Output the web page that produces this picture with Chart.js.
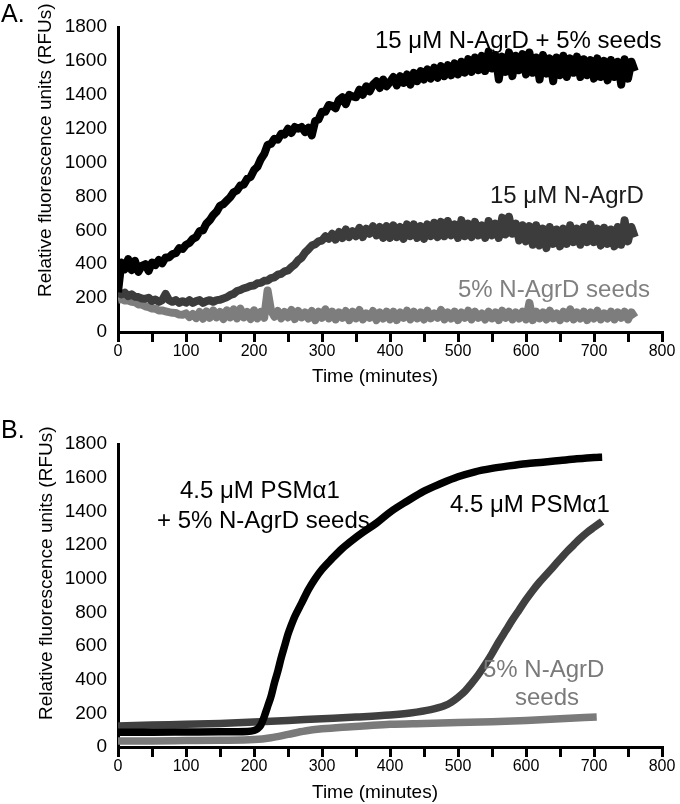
<!DOCTYPE html>
<html><head><meta charset="utf-8">
<script src="https://cdn.jsdelivr.net/npm/chart.js@4.4.1/dist/chart.umd.min.js"></script>
<style>
html,body{margin:0;padding:0;background:#fff;}
#wrap{position:relative;width:680px;height:804px;background:#fff;}
canvas{position:absolute;left:0;}
</style></head><body>
<div id="wrap">
<canvas id="cA" width="680" height="400" style="top:0"></canvas>
<canvas id="cB" width="680" height="404" style="top:400px"></canvas>
</div>
<script>
// ---------- Panel A data (time in minutes, RFU) ----------
const timeA = [0,5,10,15,20,25,30,35,40,45,50,55,60,65,70,75,80,85,90,95,
100,105,110,115,120,125,130,135,140,145,150,155,160,165,170,175,180,185,190,195,
200,205,210,215,220,225,230,235,240,245,250,255,260,265,270,275,280,285,290,295,
300,305,310,315,320,325,330,335,340,345,350,355,360,365,370,375,380,385,390,395,
400,405,410,415,420,425,430,435,440,445,450,455,460,465,470,475,480,485,490,495,
500,505,510,515,520,525,530,535,540,545,550,555,560,565,570,575,580,585,590,595,
600,605,610,615,620,625,630,635,640,645,650,655,660,665,670,675,680,685,690,695,
700,705,710,715,720,725,730,735,740,745,750,755,760];
const seededA = [235,410,370,430,365,420,355,390,400,360,
410,395,425,405,440,440,460,465,495,490,
515,525,550,560,595,600,640,660,690,710,
745,755,775,795,825,835,865,870,905,915,
955,975,1020,1050,1105,1110,1140,1135,1170,1165,
1200,1175,1210,1200,1210,1180,1205,1160,1245,1255,
1300,1300,1340,1335,1320,1370,1385,1345,1400,1390,
1385,1430,1400,1450,1420,1460,1480,1440,1490,1450,
1475,1505,1455,1510,1470,1520,1460,1530,1480,1540,
1490,1550,1495,1560,1500,1570,1510,1575,1515,1585,
1520,1595,1530,1610,1535,1620,1545,1630,1540,1655,
1555,1635,1490,1625,1535,1650,1510,1630,1545,1640,
1520,1650,1530,1620,1490,1635,1525,1615,1480,1620,
1515,1630,1505,1615,1530,1625,1505,1610,1515,1605,
1495,1615,1505,1600,1485,1605,1505,1595,1460,1610,
1495,1595,1540];
const agrdA = [235,222,232,212,222,208,206,198,196,202,
183,192,178,188,225,188,178,188,172,182,
173,188,172,182,188,172,182,188,178,188,
190,198,205,218,225,242,248,258,263,272,
274,288,290,302,304,318,323,338,343,358,
363,383,398,423,438,468,488,510,518,535,
540,565,550,580,545,590,555,605,560,595,
565,615,560,610,580,625,570,620,555,625,
555,630,560,620,550,635,565,635,555,625,
550,635,565,645,560,650,565,655,570,635,
555,660,565,640,560,650,570,630,555,655,
570,640,555,675,575,680,580,640,540,630,
535,625,515,630,510,610,495,620,520,605,
505,610,520,630,530,610,515,620,530,635,
530,610,510,615,520,605,505,620,515,660,
535,620,560];
const seedsA = [190,194,186,186,178,176,163,162,152,147,
138,137,127,127,122,117,113,112,103,102,
110,88,106,82,118,78,122,84,128,86,
118,76,128,86,134,80,138,86,118,76,
128,80,118,84,245,128,90,124,80,118,
86,130,76,124,86,116,80,124,70,120,
84,134,80,120,74,116,84,124,70,120,
80,130,74,110,84,124,70,116,80,120,
74,120,70,116,84,126,74,120,80,116,
74,126,80,110,84,130,74,116,80,120,
70,116,84,126,74,120,84,110,74,120,
80,116,70,126,84,120,74,116,80,120,
74,172,70,120,80,116,74,126,80,110,
70,120,80,134,74,116,80,120,70,116,
80,126,74,110,80,120,74,116,84,120,
74,116,86];

// ---------- Panel B data ----------
const timeB_seeded = [0,50,100,150,190,200,205,210,215,220,225,230,235,240,245,250,255,260,270,280,290,300,315,330,345,360,380,400,425,450,475,500,525,550,575,600,625,650,675,700,712];
const psmSeededB   = [88,88,89,90,92,98,108,130,180,240,300,380,450,530,600,670,725,775,855,935,1000,1055,1120,1180,1230,1275,1330,1395,1460,1520,1565,1605,1635,1655,1670,1683,1692,1702,1712,1720,1722];
const timeB_psm = [0,50,100,150,200,250,300,350,400,430,460,480,490,500,510,520,530,540,550,560,570,580,590,600,610,620,630,640,650,660,670,680,690,700,712];
const psmB      = [125,130,135,140,148,158,168,178,190,202,222,245,265,295,330,378,430,490,555,625,690,755,815,875,930,980,1025,1070,1115,1160,1200,1240,1275,1305,1340];
const timeB_seeds = [0,50,100,150,200,225,250,275,300,330,360,400,450,500,550,600,650,704];
const seedsB      = [35,36,38,40,44,55,75,95,108,118,125,135,140,145,150,158,168,178];

// ---------- axis ticks ----------
const yMax = 1800, yStep = 200;
const xMax = 800, xTickStep = 50, xLabelStep = 100;

// ---------- labels ----------
const yTitle = 'Relative fluorescence units (RFUs)';
const xTitle = 'Time (minutes)';

const FONT = '"Liberation Sans", Arial, Helvetica, sans-serif';

function pts(xs, ys){ return xs.map((x,i)=>({x:x, y:ys[i]})); }

// Free text of the figure (titles, panel letters, curve labels)
function textPlugin(items){
  return {
    id:'texts',
    afterDraw(chart){
      const ctx = chart.ctx;
      ctx.save();
      for (const it of items){
        ctx.font = it.font + ' ' + FONT;
        ctx.fillStyle = it.color || '#000';
        ctx.textBaseline = 'alphabetic';
        ctx.textAlign = 'left';
        if (it.rot){
          ctx.save();
          ctx.translate(it.x, it.y);
          ctx.rotate(-Math.PI/2);
          ctx.fillText(it.t, 0, 0);
          ctx.restore();
        } else {
          ctx.fillText(it.t, it.x, it.y);
        }
      }
      ctx.restore();
    }
  };
}

function makeChart(id, datasets, topPad, xAxisH, items, smooth){
  return new Chart(document.getElementById(id), {
    type:'line',
    data:{datasets:datasets},
    options:{
      responsive:false, animation:false, devicePixelRatio:1,
      layout:{padding:{left:0,right:18,top:topPad,bottom:0}},
      plugins:{legend:{display:false}, tooltip:{enabled:false}},
      elements:{point:{radius:0}, line:{borderJoinStyle:'round', borderCapStyle:'butt', tension: smooth?0.4:0, cubicInterpolationMode: smooth?'monotone':'default'}},
      scales:{
        x:{type:'linear', min:0, max:xMax,
           afterFit(s){ s.height = xAxisH; },
           border:{display:true, color:'#000', width:3},
           grid:{display:true, drawOnChartArea:false, drawTicks:true, tickLength:10,
                 color:'#000000', lineWidth:3, tickColor:'#000000', tickWidth:3},
           ticks:{stepSize:xTickStep, autoSkip:false, maxRotation:0, minRotation:0, padding:0, color:'#000',
                  font:{family:FONT, size:16},
                  callback:(v)=> (v % xLabelStep === 0 ? String(v) : '')}},
        y:{min:0, max:yMax,
           afterFit(s){ s.width = 118; },
           border:{display:true, color:'#000', width:3},
           grid:{display:false, drawTicks:false},
           ticks:{stepSize:yStep, padding:11, color:'#000', font:{family:FONT, size:19},
                  callback:(v)=> String(v)}}
      }
    },
    plugins:[textPlugin(items)]
  });
}

// Panel A
makeChart('cA', [
  {label:'15 µM N-AgrD + 5% seeds', data:pts(timeA, seededA), borderColor:'#000000', borderWidth:8, order:0},
  {label:'15 µM N-AgrD', data:pts(timeA, agrdA), borderColor:'#3c3c3c', borderWidth:8, order:1},
  {label:'5% N-AgrD seeds', data:pts(timeA, seedsA), borderColor:'#7d7d7d', borderWidth:8, order:2}
], 27, 68, [
  {t:'A.', x:1, y:22, font:'25px'},
  {t:yTitle, x:51, y:297, font:'19px', rot:true},
  {t:xTitle, x:312, y:382, font:'19px'},
  {t:'15 μM N-AgrD + 5% seeds', x:375, y:48, font:'24px'},
  {t:'15 μM N-AgrD', x:490, y:203, font:'24px', color:'#1a1a1a'},
  {t:'5% N-AgrD seeds', x:458, y:297, font:'24px', color:'#808080'}
], false);

// Panel B
makeChart('cB', [
  {label:'4.5 µM PSMα1 + 5% N-AgrD seeds', data:pts(timeB_seeded, psmSeededB), borderColor:'#000000', borderWidth:7.5, order:0},
  {label:'4.5 µM PSMα1', data:pts(timeB_psm, psmB), borderColor:'#404040', borderWidth:7.5, order:1},
  {label:'5% N-AgrD seeds', data:pts(timeB_seeds, seedsB), borderColor:'#7a7a7a', borderWidth:7.5, order:2}
], 44, 57, [
  {t:'B.', x:1, y:38, font:'25px'},
  {t:yTitle, x:52, y:320, font:'19px', rot:true},
  {t:xTitle, x:312, y:398, font:'19px'},
  {t:'4.5 μM PSMα1', x:180, y:98, font:'24px'},
  {t:'+ 5% N-AgrD seeds', x:157, y:128, font:'24px'},
  {t:'4.5 μM PSMα1', x:450, y:112, font:'24px'},
  {t:'5% N-AgrD', x:483, y:277, font:'24px', color:'#7a7a7a'},
  {t:'seeds', x:515, y:305, font:'24px', color:'#7a7a7a'}
], true);
</script>
</body></html>
